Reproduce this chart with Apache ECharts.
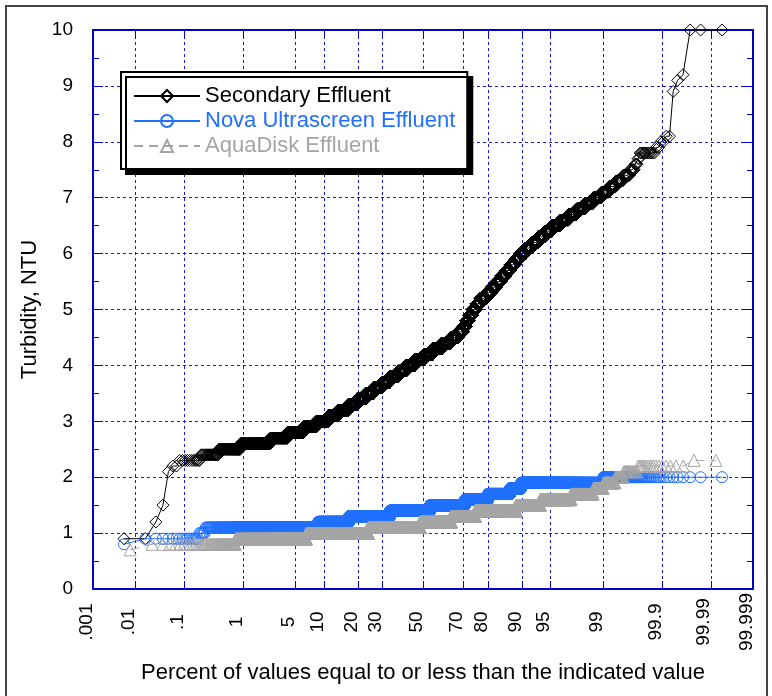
<!DOCTYPE html>
<html>
<head>
<meta charset="utf-8">
<script src="https://cdn.jsdelivr.net/npm/echarts@6/dist/echarts.min.js"></script>
<style>
  html, body { margin: 0; padding: 0; background: #fff; }
  #chart { width: 772px; height: 696px; }
</style>
</head>
<body>
<div id="chart"></div>
<script>
// Probability axis: tick positions (percent) and their printed labels
const percentTicks = [0.001, 0.01, 0.1, 1, 5, 10, 20, 30, 50, 70, 80, 90, 95, 99, 99.9, 99.99, 99.999];
const percentTickLabels = ['.001', '.01', '.1', '1', '5', '10', '20', '30', '50', '70', '80', '90', '95', '99', '99.9', '99.99', '99.999'];

// Number of readings at each turbidity value (NTU), per effluent
const secondaryLevels = [0.9, 1.2, 1.5, 2.1, 2.2, 2.3, 2.4, 2.5, 2.6, 2.7, 2.8, 2.9, 3.0, 3.1, 3.2, 3.3, 3.4, 3.5, 3.6, 3.7,
  3.8, 3.9, 4.0, 4.1, 4.2, 4.3, 4.4, 4.5, 4.6, 4.7, 4.8, 4.9, 5.0, 5.1, 5.2, 5.3, 5.4, 5.5, 5.6, 5.7, 5.8, 5.9, 6.0,
  6.1, 6.2, 6.3, 6.4, 6.5, 6.6, 6.7, 6.8, 6.9, 7.0, 7.1, 7.2, 7.3, 7.4, 7.5, 7.6, 7.7, 7.8, 7.9, 8.0, 8.1,
  8.9, 9.1, 9.2, 10.0];
const secondaryCounts = [2, 1, 1, 1, 2, 11, 19, 45, 136, 140, 191, 207, 239, 237, 273, 277, 277, 296, 321, 334,
  354, 363, 393, 417, 417, 410, 399, 307, 218, 113, 110, 130, 150, 143, 212, 165, 143, 132, 128, 121, 114, 103, 114,
  117, 103, 94, 88, 88, 73, 59, 48, 39, 30, 22, 16, 13, 10, 6, 3, 2, 11, 2, 2, 2,
  1, 1, 1, 3];

const novaLevels = [0.8, 0.9, 1.0, 1.1, 1.2, 1.3, 1.4, 1.5, 1.6, 1.7, 1.8, 1.9, 2.0];
const novaCounts = [1, 16, 5, 771, 742, 1492, 1811, 1530, 837, 628, 249, 829, 89];

const aquaLevels = [0.7, 0.8, 0.9, 1.0, 1.1, 1.2, 1.3, 1.4, 1.5, 1.6, 1.7, 1.8, 1.9, 2.0, 2.1, 2.2, 2.3];
const aquaCounts = [1, 49, 378, 1131, 1601, 1018, 700, 881, 320, 241, 90, 26, 22, 11, 13, 16, 2];

// Inverse standard normal CDF (Acklam's rational approximation)
function normInv(p) {
  const a = [-3.969683028665376e+01, 2.209460984245205e+02, -2.759285104469687e+02,
             1.383577518672690e+02, -3.066479806614716e+01, 2.506628277459239e+00];
  const b = [-5.447609879822406e+01, 1.615858368580409e+02, -1.556989798598866e+02,
             6.680131188771972e+01, -1.328068155288572e+01];
  const c = [-7.784894002430293e-03, -3.223964580411365e-01, -2.400758277161838e+00,
             -2.549671348448610e+00, 4.374664141464968e+00, 2.938163982698783e+00];
  const d = [7.784695709041462e-03, 3.224671290700398e-01, 2.445134137142996e+00,
             3.754408661907416e+00];
  const pl = 0.02425, ph = 1 - pl;
  let q, r;
  if (p < pl) {
    q = Math.sqrt(-2 * Math.log(p));
    return (((((c[0] * q + c[1]) * q + c[2]) * q + c[3]) * q + c[4]) * q + c[5]) /
           ((((d[0] * q + d[1]) * q + d[2]) * q + d[3]) * q + 1);
  }
  if (p > ph) {
    q = Math.sqrt(-2 * Math.log(1 - p));
    return -(((((c[0] * q + c[1]) * q + c[2]) * q + c[3]) * q + c[4]) * q + c[5]) /
            ((((d[0] * q + d[1]) * q + d[2]) * q + d[3]) * q + 1);
  }
  q = p - 0.5;
  r = q * q;
  return (((((a[0] * r + a[1]) * r + a[2]) * r + a[3]) * r + a[4]) * r + a[5]) * q /
         (((((b[0] * r + b[1]) * r + b[2]) * r + b[3]) * r + b[4]) * r + 1);
}

// Sorted sample -> [normal score, value] pairs using Hazen plotting positions (i - 0.5) / n
function probabilityPoints(levels, counts) {
  const n = counts.reduce((s, c) => s + c, 0);
  const pts = [];
  let rank = 0;
  levels.forEach((v, k) => {
    for (let j = 0; j < counts[k]; j++) {
      rank++;
      pts.push([normInv((rank - 0.5) / n), v]);
    }
  });
  return pts;
}

const tickZ = percentTicks.map(p => normInv(p / 100));
const zMin = tickZ[0];
const zMax = tickZ[tickZ.length - 1];

const AXIS_BLUE = '#0000cc';
const GRID_BLUE = '#1a1ad8';
const NOVA_BLUE = '#2070ff';
const AQUA_GRAY = '#a5a5a5';
const FONT = "'Liberation Sans', Arial, Helvetica, sans-serif";

function tickLabel(val) {
  const i = tickZ.findIndex(z => Math.abs(z - val) < 1e-6);
  return i >= 0 ? percentTickLabels[i] : '';
}

const chart = echarts.init(document.getElementById('chart'), null, { renderer: 'canvas' });

const option = {
  animation: false,
  backgroundColor: '#fff',
  textStyle: { fontFamily: FONT },
  grid: { left: 93, right: 19, top: 30, bottom: 107, containLabel: false, outerBoundsMode: 'none' },
  xAxis: [
    {
      type: 'value', position: 'bottom', min: zMin, max: zMax,
      axisLine: { show: true, onZero: false, lineStyle: { color: AXIS_BLUE, width: 2 } },
      axisTick: { show: true, inside: true, length: 8, customValues: tickZ, lineStyle: { color: AXIS_BLUE, width: 1 } },
      axisLabel: {
        show: true, customValues: tickZ, formatter: tickLabel, rotate: 90,
        align: 'center', verticalAlign: 'bottom', lineHeight: 13, margin: 33,
        fontSize: 19, color: '#000', fontFamily: FONT
      },
      splitLine: { show: true, lineStyle: { color: GRID_BLUE, width: 1, type: [3, 3] } },
      name: 'Percent of values equal to or less than the indicated value',
      nameLocation: 'middle', nameGap: 73,
      nameTextStyle: { fontSize: 22, color: '#000', fontFamily: FONT }
    },
    {
      type: 'value', position: 'top', min: zMin, max: zMax,
      axisLine: { show: true, onZero: false, lineStyle: { color: AXIS_BLUE, width: 2 } },
      axisTick: { show: true, inside: true, length: 8, customValues: tickZ, lineStyle: { color: AXIS_BLUE, width: 1 } },
      axisLabel: { show: false },
      splitLine: { show: false }
    }
  ],
  yAxis: [
    {
      type: 'value', position: 'left', min: 0, max: 10, interval: 1,
      axisLine: { show: true, onZero: false, lineStyle: { color: AXIS_BLUE, width: 2 } },
      axisTick: { show: true, inside: true, length: 10, lineStyle: { color: AXIS_BLUE, width: 1 } },
      minorTick: { show: true, splitNumber: 2, length: 6, lineStyle: { color: AXIS_BLUE, width: 1 } },
      axisLabel: { fontSize: 19, color: '#000', margin: 20, fontFamily: FONT },
      splitLine: { show: true, lineStyle: { color: GRID_BLUE, width: 1, type: [3, 3] } },
      name: 'Turbidity, NTU', nameLocation: 'middle', nameGap: 50,
      nameTextStyle: { fontSize: 22, color: '#000', fontFamily: FONT }
    },
    {
      type: 'value', position: 'right', min: 0, max: 10, interval: 1,
      axisLine: { show: true, onZero: false, lineStyle: { color: AXIS_BLUE, width: 2 } },
      axisTick: { show: true, inside: true, length: 10, lineStyle: { color: AXIS_BLUE, width: 1 } },
      minorTick: { show: true, splitNumber: 2, length: 6, lineStyle: { color: AXIS_BLUE, width: 1 } },
      axisLabel: { show: false },
      splitLine: { show: false }
    }
  ],
  legend: {
    orient: 'vertical', left: 121, top: 72,
    padding: [13, 12, 12, 12], itemGap: 3, itemWidth: 66, itemHeight: 15,
    backgroundColor: '#fff', borderColor: '#000', borderWidth: 2,
    shadowColor: '#000', shadowBlur: 0, shadowOffsetX: 5, shadowOffsetY: 5,
    selectedMode: false,
    textStyle: { fontSize: 22, fontFamily: FONT },
    data: [
      { name: 'Secondary Effluent', textStyle: { color: '#000' } },
      { name: 'Nova Ultrascreen Effluent', textStyle: { color: NOVA_BLUE } },
      { name: 'AquaDisk Effluent', textStyle: { color: AQUA_GRAY } }
    ]
  },
  graphic: [{
    type: 'rect', silent: true,
    shape: { x: 6, y: 6, width: 761, height: 720 },
    style: { fill: 'none', stroke: '#444', lineWidth: 2 }
  }],
  series: [
    {
      name: 'Secondary Effluent', type: 'line', xAxisIndex: 0, yAxisIndex: 0,
      data: probabilityPoints(secondaryLevels, secondaryCounts),
      symbol: 'diamond', symbolSize: 12, showSymbol: true, clip: false, silent: true,
      itemStyle: { color: 'rgba(255,255,255,0)', borderColor: '#000', borderWidth: 1 },
      lineStyle: { color: '#000', width: 1 },
      emphasis: { disabled: true }
    },
    {
      name: 'Nova Ultrascreen Effluent', type: 'line', xAxisIndex: 0, yAxisIndex: 0,
      data: probabilityPoints(novaLevels, novaCounts),
      symbol: 'circle', symbolSize: 11, showSymbol: true, clip: false, silent: true,
      itemStyle: { color: 'rgba(255,255,255,0)', borderColor: NOVA_BLUE, borderWidth: 1 },
      lineStyle: { color: NOVA_BLUE, width: 1 },
      emphasis: { disabled: true }
    },
    {
      name: 'AquaDisk Effluent', type: 'line', xAxisIndex: 0, yAxisIndex: 0,
      data: probabilityPoints(aquaLevels, aquaCounts),
      symbol: 'triangle', symbolSize: 12, showSymbol: true, clip: false, silent: true,
      itemStyle: { color: 'rgba(255,255,255,0)', borderColor: AQUA_GRAY, borderWidth: 1 },
      lineStyle: { color: AQUA_GRAY, width: 1, type: [9, 6] },
      emphasis: { disabled: true }
    }
  ]
};

chart.setOption(option);
</script>
</body>
</html>
